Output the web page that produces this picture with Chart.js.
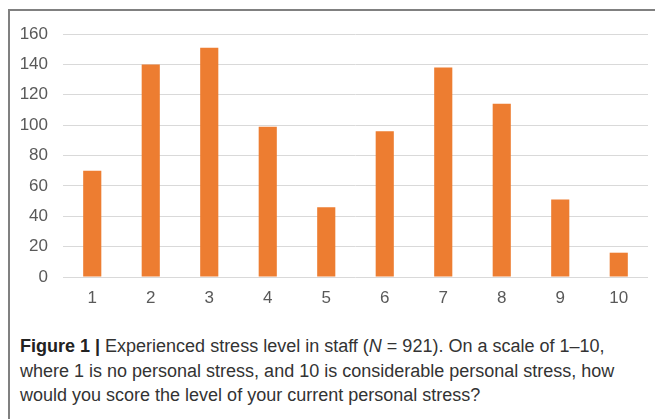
<!DOCTYPE html>
<html>
<head>
<meta charset="utf-8">
<script src="https://cdn.jsdelivr.net/npm/chart.js@4/dist/chart.umd.min.js"></script>
<style>
  body { margin: 0; background: #fff; width: 655px; height: 419px; overflow: hidden; position: relative; }
  #frame {
    position: absolute; left: 8px; top: 9px; width: 660px; height: 420px;
    border-left: 2px solid #808080; border-top: 2px solid #808080;
  }
  #wrap { position: absolute; left: 10px; top: 11px; width: 645px; height: 320px; }
  #caption {
    position: absolute; left: 20px; top: 334px; width: 628px;
    font-family: "Liberation Sans", Arial, sans-serif; font-size: 18px;
    line-height: 24.5px; color: #333;
  }
  #caption b { color: #222; }
</style>
</head>
<body>
<div id="frame"></div>
<div id="wrap"><canvas id="chart"></canvas></div>
<div id="caption"><b>Figure 1 |</b> Experienced stress level in staff (<i>N</i> = 921). On a scale of 1–10, where 1 is no personal stress, and 10 is considerable personal stress, how would you score the level of your current personal stress?</div>
<script>
const levels = ['1', '2', '3', '4', '5', '6', '7', '8', '9', '10']
const staffCounts = [70, 140, 151, 99, 46, 96, 138, 114, 51, 16]
const yTicks = [0, 20, 40, 60, 80, 100, 120, 140, 160]

const ctx = document.getElementById('chart')

const data = {
  labels: levels,
  datasets: [
    {
      label: 'Staff',
      data: staffCounts,
      backgroundColor: '#ed7d31',
      barPercentage: 0.31,
      categoryPercentage: 1.0
    }
  ]
}

const config = {
  type: 'bar',
  data: data,
  options: {
    responsive: true,
    maintainAspectRatio: false,
    animation: false,
    layout: { padding: { left: 0, right: 7, top: 23, bottom: 0 } },
    plugins: {
      legend: { display: false },
      tooltip: { enabled: false }
    },
    scales: {
      x: {
        afterFit: (scale) => { scale.height = 54 },
        grid: { display: false },
        border: { display: false },
        ticks: {
          color: '#595959',
          padding: 3,
          maxRotation: 0,
          font: { family: 'Liberation Sans', size: 17 }
        }
      },
      y: {
        min: 0,
        max: 160,
        afterBuildTicks: (scale) => { scale.ticks = yTicks.map(v => ({ value: v })) },
        afterFit: (scale) => { scale.width = 53; scale.paddingTop = 0 },
        grid: { color: '#d9d9d9', drawTicks: false },
        border: { display: false },
        ticks: {
          color: '#595959',
          padding: 15,
          font: { family: 'Liberation Sans', size: 17 }
        }
      }
    }
  }
}

const myChart = new Chart(ctx, config)
</script>
</body>
</html>
